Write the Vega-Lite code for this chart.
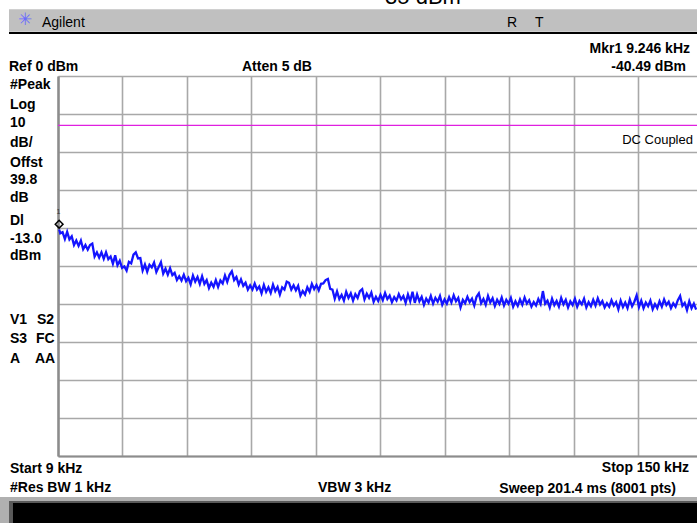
{
 "$schema": "https://vega.github.io/schema/vega-lite/v6.json",
 "width": 639,
 "height": 380,
 "autosize": {"type": "none"},
 "padding": {"left": 58, "top": 76, "right": 0, "bottom": 67},
 "background": "white",
 "config": {"view": {"stroke": null}, "font": "Liberation Sans"},
 "datasets": {
  "rects": [
   {"f": -1.71, "f2": 148.69, "p": 17.55, "p2": 11.66, "c": "#c0c0c0"},
   {"f": -5, "f2": 148.69, "p": -110.79, "p2": -120, "c": "#b0b0b0"},
   {"f": -1.71, "f2": 148.69, "p": -111.84, "p2": -120, "c": "#5a5a5a"},
   {"f": -0.84, "f2": 148.69, "p": -112.37, "p2": -120, "c": "#000000"}
  ],
  "blackline": [{"f": -1.71, "f2": 148.69, "p": 11.32}],
  "dline": [{"f": 9, "f2": 148.69, "p": -13}],
  "marker": [{"f": 9.246, "p": -39.0}],
  "boldLeft": [
   {"t": "Ref 0 dBm", "f": -1.71, "p": 1.32},
   {"t": "Atten 5 dB", "f": 49.22, "p": 1.32},
   {"t": "#Peak", "f": -1.49, "p": -3.42},
   {"t": "Log", "f": -1.49, "p": -8.68},
   {"t": "10", "f": -1.49, "p": -13.42},
   {"t": "dB/", "f": -1.49, "p": -18.68},
   {"t": "Offst", "f": -1.49, "p": -23.95},
   {"t": "39.8", "f": -1.49, "p": -28.42},
   {"t": "dB", "f": -1.49, "p": -33.16},
   {"t": "Dl", "f": -1.49, "p": -39.21},
   {"t": "-13.0", "f": -1.49, "p": -43.95},
   {"t": "dBm", "f": -1.49, "p": -48.42},
   {"t": "V1", "f": -1.49, "p": -65.26},
   {"t": "S2", "f": 4.41, "p": -65.26},
   {"t": "S3", "f": -1.49, "p": -70.26},
   {"t": "FC", "f": 4.19, "p": -70.26},
   {"t": "A", "f": -1.49, "p": -75.53},
   {"t": "AA", "f": 3.97, "p": -75.53},
   {"t": "Start 9 kHz", "f": -1.49, "p": -104.47},
   {"t": "#Res BW 1 kHz", "f": -1.49, "p": -109.47},
   {"t": "VBW 3 kHz", "f": 65.84, "p": -109.47}
  ],
  "boldRight": [
   {"t": "Mkr1  9.246 kHz", "f": 147.16, "p": 6.05},
   {"t": "-40.49 dBm", "f": 146.28, "p": 1.32},
   {"t": "Stop 150 kHz", "f": 146.94, "p": -104.21},
   {"t": "Sweep 201.4 ms (8001 pts)", "f": 144.1, "p": -109.74}
  ],
  "trace": [
   {"f":9.25,"p":-40.4},{"f":9.5,"p":-41.4},{"f":10.0,"p":-41.1},{"f":10.5,"p":-42.9},{"f":11.0,"p":-41.0},{"f":11.5,"p":-43.0},{"f":12.0,"p":-42.2},{"f":12.5,"p":-44.5},{"f":13.0,"p":-43.3},{"f":13.5,"p":-44.7},
   {"f":14.0,"p":-43.3},{"f":14.5,"p":-45.6},{"f":15.0,"p":-44.5},{"f":15.5,"p":-45.7},{"f":16.0,"p":-44.5},{"f":16.5,"p":-44.1},{"f":17.0,"p":-47.5},{"f":17.5,"p":-46.4},{"f":18.0,"p":-47.8},{"f":18.5,"p":-46.4},
   {"f":19.0,"p":-48.1},{"f":19.5,"p":-46.4},{"f":20.0,"p":-48.2},{"f":20.5,"p":-47.5},{"f":21.0,"p":-49.4},{"f":21.5,"p":-47.2},{"f":22.0,"p":-49.8},{"f":22.5,"p":-48.6},{"f":23.0,"p":-50.5},{"f":23.5,"p":-50.1},
   {"f":24.0,"p":-51.2},{"f":24.5,"p":-48.9},{"f":25.0,"p":-49.3},{"f":25.5,"p":-47.0},{"f":26.0,"p":-46.4},{"f":26.5,"p":-48.0},{"f":27.0,"p":-47.9},{"f":27.5,"p":-51.2},{"f":28.0,"p":-49.6},{"f":28.5,"p":-51.5},
   {"f":29.0,"p":-49.7},{"f":29.5,"p":-50.4},{"f":30.0,"p":-49.1},{"f":30.5,"p":-51.6},{"f":31.0,"p":-50.3},{"f":31.5,"p":-49.0},{"f":32.0,"p":-52.0},{"f":32.5,"p":-50.7},{"f":33.0,"p":-52.3},{"f":33.5,"p":-50.6},
   {"f":34.0,"p":-52.4},{"f":34.5,"p":-51.8},{"f":35.0,"p":-53.7},{"f":35.5,"p":-52.7},{"f":36.0,"p":-53.8},{"f":36.5,"p":-52.3},{"f":37.0,"p":-54.0},{"f":37.5,"p":-53.1},{"f":38.0,"p":-54.8},{"f":38.5,"p":-52.5},
   {"f":39.0,"p":-54.1},{"f":39.5,"p":-52.9},{"f":40.0,"p":-54.7},{"f":40.5,"p":-52.7},{"f":41.0,"p":-54.7},{"f":41.5,"p":-53.7},{"f":42.0,"p":-55.8},{"f":42.5,"p":-54.4},{"f":43.0,"p":-55.5},{"f":43.5,"p":-53.7},
   {"f":44.0,"p":-55.5},{"f":44.5,"p":-53.8},{"f":45.0,"p":-54.6},{"f":45.5,"p":-52.5},{"f":46.0,"p":-54.2},{"f":46.5,"p":-52.3},{"f":47.0,"p":-51.4},{"f":47.5,"p":-53.7},{"f":48.0,"p":-52.9},{"f":48.5,"p":-54.9},
   {"f":49.0,"p":-53.5},{"f":49.5,"p":-55.2},{"f":50.0,"p":-54.4},{"f":50.5,"p":-56.2},{"f":51.0,"p":-55.1},{"f":51.5,"p":-56.2},{"f":52.0,"p":-54.6},{"f":52.5,"p":-56.2},{"f":53.0,"p":-55.4},{"f":53.5,"p":-57.2},
   {"f":54.0,"p":-55.0},{"f":54.5,"p":-56.8},{"f":55.0,"p":-55.6},{"f":55.5,"p":-57.1},{"f":56.0,"p":-54.9},{"f":56.5,"p":-56.6},{"f":57.0,"p":-55.5},{"f":57.5,"p":-57.5},{"f":58.0,"p":-55.6},{"f":58.5,"p":-56.2},
   {"f":59.0,"p":-54.1},{"f":59.5,"p":-54.4},{"f":60.0,"p":-56.2},{"f":60.5,"p":-55.1},{"f":61.0,"p":-56.4},{"f":61.5,"p":-55.2},{"f":62.0,"p":-57.8},{"f":62.5,"p":-56.6},{"f":63.0,"p":-57.5},{"f":63.5,"p":-55.6},
   {"f":64.0,"p":-56.8},{"f":64.5,"p":-54.7},{"f":65.0,"p":-56.1},{"f":65.5,"p":-55.0},{"f":66.0,"p":-56.4},{"f":66.5,"p":-54.7},{"f":67.0,"p":-54.6},{"f":67.5,"p":-53.7},{"f":68.0,"p":-53.4},{"f":68.5,"p":-56.0},
   {"f":69.0,"p":-56.2},{"f":69.5,"p":-58.6},{"f":70.0,"p":-56.7},{"f":70.5,"p":-58.7},{"f":71.0,"p":-57.6},{"f":71.5,"p":-59.1},{"f":72.0,"p":-56.8},{"f":72.5,"p":-58.4},{"f":73.0,"p":-57.2},{"f":73.5,"p":-59.1},
   {"f":74.0,"p":-57.4},{"f":74.5,"p":-58.4},{"f":75.0,"p":-56.6},{"f":75.5,"p":-56.1},{"f":76.0,"p":-58.8},{"f":76.5,"p":-57.3},{"f":77.0,"p":-58.4},{"f":77.5,"p":-57.0},{"f":78.0,"p":-59.4},{"f":78.5,"p":-58.1},
   {"f":79.0,"p":-59.2},{"f":79.5,"p":-57.6},{"f":80.0,"p":-59.0},{"f":80.5,"p":-57.1},{"f":81.0,"p":-58.7},{"f":81.5,"p":-57.8},{"f":82.0,"p":-59.5},{"f":82.5,"p":-58.2},{"f":83.0,"p":-59.1},{"f":83.5,"p":-57.4},
   {"f":84.0,"p":-58.8},{"f":84.5,"p":-57.9},{"f":85.0,"p":-59.7},{"f":85.5,"p":-57.5},{"f":86.0,"p":-59.3},{"f":86.5,"p":-56.8},{"f":87.0,"p":-59.7},{"f":87.5,"p":-57.5},{"f":88.0,"p":-59.3},{"f":88.5,"p":-58.1},
   {"f":89.0,"p":-60.2},{"f":89.5,"p":-58.6},{"f":90.0,"p":-59.6},{"f":90.5,"p":-57.9},{"f":91.0,"p":-59.9},{"f":91.5,"p":-58.4},{"f":92.0,"p":-59.4},{"f":92.5,"p":-57.9},{"f":93.0,"p":-60.2},{"f":93.5,"p":-58.8},
   {"f":94.0,"p":-59.9},{"f":94.5,"p":-58.2},{"f":95.0,"p":-59.6},{"f":95.5,"p":-57.7},{"f":96.0,"p":-59.3},{"f":96.5,"p":-58.4},{"f":97.0,"p":-60.9},{"f":97.5,"p":-58.9},{"f":98.0,"p":-59.8},{"f":98.5,"p":-58.1},
   {"f":99.0,"p":-59.5},{"f":99.5,"p":-58.6},{"f":100.0,"p":-60.4},{"f":100.5,"p":-58.1},{"f":101.0,"p":-57.2},{"f":101.5,"p":-59.8},{"f":102.0,"p":-58.7},{"f":102.5,"p":-60.2},{"f":103.0,"p":-57.9},{"f":103.5,"p":-59.6},
   {"f":104.0,"p":-58.5},{"f":104.5,"p":-60.5},{"f":105.0,"p":-58.9},{"f":105.5,"p":-60.0},{"f":106.0,"p":-58.3},{"f":106.5,"p":-60.4},{"f":107.0,"p":-58.9},{"f":107.5,"p":-59.9},{"f":108.0,"p":-58.4},{"f":108.5,"p":-60.7},
   {"f":109.0,"p":-59.3},{"f":109.5,"p":-60.5},{"f":110.0,"p":-58.8},{"f":110.5,"p":-60.2},{"f":111.0,"p":-58.3},{"f":111.5,"p":-59.9},{"f":112.0,"p":-59.0},{"f":112.5,"p":-60.7},{"f":113.0,"p":-59.5},{"f":113.5,"p":-60.4},
   {"f":114.0,"p":-58.7},{"f":114.5,"p":-60.0},{"f":115.0,"p":-56.6},{"f":115.5,"p":-59.9},{"f":116.0,"p":-59.1},{"f":116.5,"p":-60.9},{"f":117.0,"p":-58.6},{"f":117.5,"p":-60.3},{"f":118.0,"p":-59.2},{"f":118.5,"p":-60.7},
   {"f":119.0,"p":-58.4},{"f":119.5,"p":-60.1},{"f":120.0,"p":-58.9},{"f":120.5,"p":-60.9},{"f":121.0,"p":-59.3},{"f":121.5,"p":-60.3},{"f":122.0,"p":-58.6},{"f":122.5,"p":-60.7},{"f":123.0,"p":-59.2},{"f":123.5,"p":-60.1},
   {"f":124.0,"p":-58.6},{"f":124.5,"p":-60.9},{"f":125.0,"p":-59.5},{"f":125.5,"p":-60.6},{"f":126.0,"p":-58.9},{"f":126.5,"p":-60.4},{"f":127.0,"p":-58.5},{"f":127.5,"p":-60.1},{"f":128.0,"p":-59.2},{"f":128.5,"p":-60.9},
   {"f":129.0,"p":-59.8},{"f":129.5,"p":-60.7},{"f":130.0,"p":-59.0},{"f":130.5,"p":-60.4},{"f":131.0,"p":-59.5},{"f":131.5,"p":-61.4},{"f":132.0,"p":-59.1},{"f":132.5,"p":-60.8},{"f":133.0,"p":-59.6},{"f":133.5,"p":-61.1},
   {"f":134.0,"p":-58.8},{"f":134.5,"p":-60.6},{"f":135.0,"p":-59.4},{"f":135.5,"p":-57.7},{"f":136.0,"p":-60.8},{"f":136.5,"p":-59.1},{"f":137.0,"p":-61.1},{"f":137.5,"p":-59.6},{"f":138.0,"p":-60.6},{"f":138.5,"p":-59.1},
   {"f":139.0,"p":-61.4},{"f":139.5,"p":-60.0},{"f":140.0,"p":-61.1},{"f":140.5,"p":-59.3},{"f":141.0,"p":-60.7},{"f":141.5,"p":-58.8},{"f":142.0,"p":-60.3},{"f":142.5,"p":-59.4},{"f":143.0,"p":-61.1},{"f":143.5,"p":-59.8},
   {"f":144.0,"p":-60.7},{"f":144.5,"p":-59.0},{"f":145.0,"p":-57.9},{"f":145.5,"p":-60.5},{"f":146.0,"p":-59.7},{"f":146.5,"p":-61.6},{"f":147.0,"p":-59.3},{"f":147.5,"p":-61.1},{"f":148.0,"p":-59.9},{"f":148.5,"p":-61.5}
  ]
 },
 "encoding": {
  "x": {"field": "f", "type": "quantitative",
        "scale": {"domain": [9, 148.69], "zero": false, "nice": false},
        "axis": {"values": [9, 23.1, 37.2, 51.3, 65.4, 79.5, 93.6, 107.7, 121.8, 135.9], "grid": true, "labels": false, "ticks": false, "title": null, "domain": true, "domainColor": "#8c8c8c", "domainWidth": 2, "gridColor": "#a8a8a8", "gridWidth": 1.6}},
  "y": {"field": "p", "type": "quantitative",
        "scale": {"domain": [-100, 0], "zero": false, "nice": false},
        "axis": {"values": [0, -10, -20, -30, -40, -50, -60, -70, -80, -90, -100], "grid": true, "labels": false, "ticks": false, "title": null, "domain": true, "domainColor": "#8c8c8c", "domainWidth": 2.5, "gridColor": "#a8a8a8", "gridWidth": 1.6}}
 },
 "layer": [
  {"data": {"name": "rects"}, "mark": {"type": "rect"},
   "encoding": {"x2": {"field": "f2"}, "y2": {"field": "p2"}, "color": {"field": "c", "type": "nominal", "scale": null, "legend": null}}},
  {"data": {"name": "blackline"}, "mark": {"type": "rule", "color": "#000000", "strokeWidth": 2},
   "encoding": {"x2": {"field": "f2"}}},
  {"data": {"name": "dline"}, "mark": {"type": "rule", "color": "#e020e0", "strokeWidth": 1.2},
   "encoding": {"x2": {"field": "f2"}}},
  {"data": {"name": "trace"}, "mark": {"type": "line", "color": "#1414ff", "strokeWidth": 2.3, "strokeJoin": "miter"},
   "encoding": {}},
  {"data": {"name": "marker"}, "mark": {"type": "point", "shape": "diamond", "filled": false, "stroke": "#000000", "strokeWidth": 1.5, "size": 60, "opacity": 1},
   "encoding": {}},
  {"data": {"values": [{"f": 9.1, "p": -36.3, "t": "1"}]}, "mark": {"type": "text", "align": "center", "baseline": "alphabetic", "fontSize": 7, "color": "#333333"},
   "encoding": {"text": {"field": "t"}}},
  {"data": {"name": "boldLeft"}, "mark": {"type": "text", "align": "left", "baseline": "alphabetic", "fontSize": 14, "fontWeight": "bold", "color": "#000000"},
   "encoding": {"text": {"field": "t"}}},
  {"data": {"name": "boldRight"}, "mark": {"type": "text", "align": "right", "baseline": "alphabetic", "fontSize": 14, "fontWeight": "bold", "color": "#000000"},
   "encoding": {"text": {"field": "t"}}},
  {"data": {"values": [{"f": 147.81, "p": -17.89, "t": "DC Coupled"}]}, "mark": {"type": "text", "align": "right", "baseline": "alphabetic", "fontSize": 13, "color": "#000000"},
   "encoding": {"text": {"field": "t"}}},
  {"data": {"values": [{"f": 5.5, "p": 12.89, "t": "Agilent"}, {"f": 107.15, "p": 12.89, "t": "R"}, {"f": 113.27, "p": 12.89, "t": "T"}]}, "mark": {"type": "text", "align": "left", "baseline": "alphabetic", "fontSize": 14, "color": "#000000"},
   "encoding": {"text": {"field": "t"}}},
  {"data": {"values": [{"f": 1.79, "p": 14.74, "t": "✳"}]}, "mark": {"type": "text", "align": "center", "baseline": "middle", "fontSize": 17, "font": "DejaVu Sans", "color": "#6a6aff"},
   "encoding": {"text": {"field": "t"}}},
  {"data": {"values": [{"f": 88.79, "p": 18.82, "t": "35 dBm"}]}, "mark": {"type": "text", "align": "center", "baseline": "alphabetic", "fontSize": 22, "color": "#000000"},
   "encoding": {"text": {"field": "t"}}}
 ]
}
